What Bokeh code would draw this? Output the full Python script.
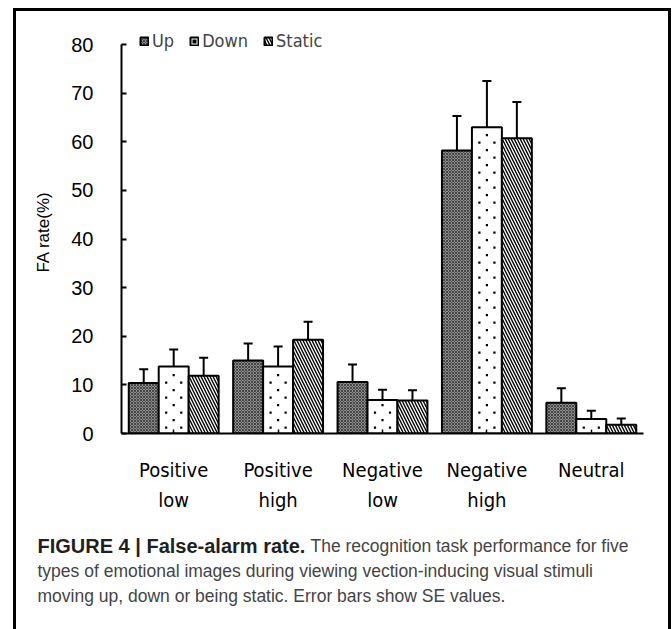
from bokeh.plotting import figure
from bokeh.layouts import column
from bokeh.models import (FactorRange, Range1d, Whisker, TeeHead, Legend, LegendItem,
                          ColumnDataSource, FixedTicker)
from bokeh.transform import dodge
from bokeh.core.properties import value
from bokeh.embed import file_html
from bokeh.resources import INLINE

categories = ["Positive\nlow", "Positive\nhigh", "Negative\nlow", "Negative\nhigh", "Neutral"]
series = ["Up", "Down", "Static"]
up = [10.4, 15.0, 10.6, 58.2, 6.3]
up_err = [13.2, 18.5, 14.2, 65.3, 9.3]
down = [13.8, 13.8, 6.9, 63.0, 3.0]
down_err = [17.3, 17.9, 9.0, 72.5, 4.7]
static = [11.9, 19.3, 6.8, 60.7, 1.8]
static_err = [15.6, 23.0, 8.9, 68.2, 3.1]
y_ticks = [0, 10, 20, 30, 40, 50, 60, 70, 80]
y_label = "FA rate(%)"
caption_bold = "FIGURE 4 | False-alarm rate."
caption_lines = ["The recognition task performance for five",
                 "types of emotional images during viewing vection-inducing visual stimuli",
                 "moving up, down or being static. Error bars show SE values."]

W = 652
p = figure(width=W, height=509,
           x_range=FactorRange(*categories, range_padding=0, factor_padding=0),
           y_range=Range1d(0, 82.88),
           output_backend="svg", toolbar_location=None,
           min_border_left=105, min_border_right=25, min_border_top=19, min_border_bottom=87)
p.outline_line_color = None
p.xgrid.grid_line_color = None
p.ygrid.grid_line_color = None

# y axis
yax = p.yaxis[0]
yax.ticker = FixedTicker(ticks=y_ticks)
yax.bounds = (0, 80)
yax.major_tick_in = 5
yax.major_tick_out = 0
yax.minor_tick_line_color = None
yax.axis_line_width = 2
yax.major_tick_line_width = 2
yax.major_label_standoff = 28
yax.major_label_text_font = "Liberation Sans"
yax.major_label_text_font_size = "20px"
yax.major_label_text_color = "black"
yax.axis_label = y_label
yax.axis_label_standoff = 15
yax.axis_label_text_font = "Liberation Sans"
yax.axis_label_text_font_style = "normal"
yax.axis_label_text_font_size = "17px"
yax.axis_label_text_color = "black"

# x axis
xax = p.xaxis[0]
xax.major_tick_in = 4
xax.major_tick_out = 0
xax.axis_line_width = 2
xax.major_tick_line_width = 1.5
xax.major_label_standoff = 24
xax.major_label_text_font = "DejaVu Sans Condensed"
xax.major_label_text_font_size = "20px"
xax.major_label_text_color = "black"
xax.major_label_text_line_height = 1.25

styles = [
    dict(fill_color="#8c8c8c", hatch_pattern="diagonal_cross", hatch_scale=3, hatch_color="#333333", hatch_weight=0.8),
    dict(fill_color="white"),
    dict(fill_color="white", hatch_pattern="left_diagonal_line", hatch_scale=6, hatch_color="black", hatch_weight=1.4),
]
vals = [up, down, static]
errs = [up_err, down_err, static_err]
bar_w = 0.287
offsets = [-bar_w, 0.0, bar_w]
renderers = []
for name, v, e, off, st in zip(series, vals, errs, offsets, styles):
    src = ColumnDataSource(dict(cat=categories, val=v, hi=e))
    r = p.vbar(x=dodge("cat", off, range=p.x_range), top="val", bottom=0, width=bar_w,
               source=src, line_color="black", line_width=2, **st)
    w = Whisker(base=dodge("cat", off, range=p.x_range), upper="hi", lower="val", source=src,
                line_width=2, line_color="black",
                upper_head=TeeHead(size=9, line_width=2, line_color="black"), lower_head=None)
    p.add_layout(w)
    renderers.append([r])

# dotted fill pattern of the "Down" bars, laid out inside each bar from its value
step = 1.543        # half a pattern row, in value units
dx = 0.072          # pattern column offset, in category units
cols = {-dx: ([], []), 0.0: ([], []), dx: ([], [])}
for cat, top in zip(categories, down):
    k = 0
    yv = 1.2
    while yv < top - 0.6:
        if k % 2 == 0:
            cols[-dx][0].append(cat); cols[-dx][1].append(yv)
            cols[dx][0].append(cat); cols[dx][1].append(yv)
        else:
            cols[0.0][0].append(cat); cols[0.0][1].append(yv)
        k += 1
        yv += step
for off, (cx, cy) in cols.items():
    ds = ColumnDataSource(dict(cat=cx, y=cy))
    dr = p.scatter(x=dodge("cat", off, range=p.x_range), y="y", source=ds, marker="square",
                   size=2.2, fill_color="black", line_color=None)
    if off == 0.0:
        renderers[1].append(dr)

items = [LegendItem(label=n, renderers=rs) for n, rs in zip(series, renderers)]
legend = Legend(items=items, orientation="horizontal", location=(18, 382),
                label_text_font="DejaVu Sans Condensed", label_text_font_size="18px",
                glyph_width=10, glyph_height=10, label_standoff=3, spacing=15, padding=0,
                margin=0, border_line_color=None, background_fill_alpha=0)
p.add_layout(legend, "center")

# caption panel
c = figure(width=W, height=109, x_range=Range1d(0, W), y_range=Range1d(109, 0),
           output_backend="svg", toolbar_location=None,
           x_axis_location=None, y_axis_location=None, min_border=0)
c.outline_line_color = None
c.xgrid.grid_line_color = None
c.ygrid.grid_line_color = None
c.text(x=[21], y=[25], text=[caption_bold], text_font=value("Liberation Sans"),
       text_font_style="bold", text_font_size="20px", text_color="#231f20",
       text_baseline="middle", text_align="left")
c.text(x=[294], y=[25], text=[caption_lines[0]], text_font=value("Liberation Sans"),
       text_font_size="17.5px", text_color="#444444", text_baseline="middle", text_align="left")
c.text(x=[21, 21], y=[50, 75], text=caption_lines[1:], text_font=value("Liberation Sans"),
       text_font_size="17.5px", text_color="#444444", text_baseline="middle", text_align="left")

layout = column(p, column(c, spacing=0), spacing=0, margin=(8, 0, 0, 13),
                styles={"border-left": "3px solid black", "border-top": "3px solid black",
                        "border-right": "3px solid black"})

open("out.html", "w").write(file_html(layout, INLINE))
